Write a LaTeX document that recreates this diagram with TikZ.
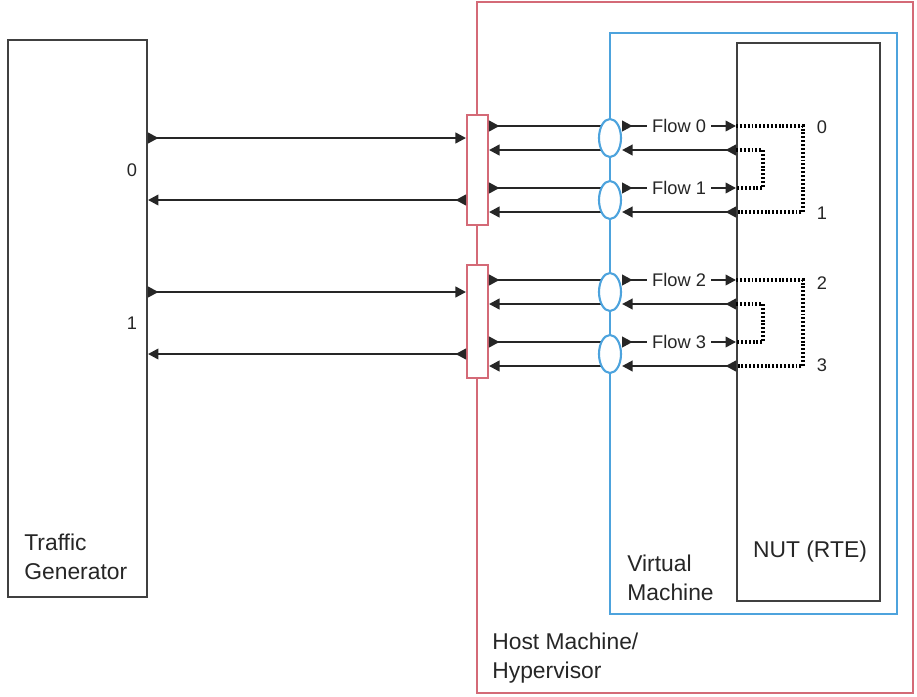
\documentclass[tikz,border=0pt]{standalone}
\usepackage{fontspec}
\setmainfont{Liberation Sans}
\usetikzlibrary{arrows.meta,shapes.geometric}
\definecolor{hostred}{HTML}{D46A77}
\definecolor{vmblue}{HTML}{4DA3DD}

\begin{document}
\begin{tikzpicture}[
    x=0.02cm, y=-0.02cm,
    box/.style={draw=black!75, line width=1.1pt, inner sep=0pt},
    hostbox/.style={draw=hostred, line width=1.4pt, inner sep=0pt},
    vmbox/.style={draw=vmblue, line width=1.2pt, inner sep=0pt},
    port/.style={draw=hostred, fill=white, line width=1.1pt,
                 minimum width=0.42cm, inner sep=0pt},
    vport/.style={ellipse, draw=vmblue, fill=white, line width=1.2pt,
                  minimum width=0.44cm, minimum height=0.76cm, inner sep=0pt},
    wire/.style={black!85, line width=1.3pt},
    both/.style={wire, {Triangle[length=6pt,width=6pt,reversed]}-{Triangle[length=6pt,width=6pt]}},
    outw/.style={wire, {Triangle[length=6pt,width=6pt,reversed]}-},
    inw/.style={wire, -{Triangle[length=6pt,width=6pt]}},
    lback/.style={black, line width=2.2pt, dash pattern=on 1.1pt off 1.1pt},
    lab/.style={font=\fontsize{13}{16.5}\selectfont, text=black!85,
                align=left, inner sep=0pt},
    flowlab/.style={font=\fontsize{10.4}{12}\selectfont, text=black!85,
                    fill=white, inner xsep=3pt, inner ysep=1pt},
    num/.style={font=\fontsize{10.4}{12}\selectfont, text=black!85, inner sep=0pt},
]
\useasboundingbox (0,0) rectangle (917,697);

% ---- boxes ----
\node[hostbox, minimum width=8.72cm, minimum height=13.82cm] (host) at (695,347.5) {};
\node[vmbox, minimum width=5.74cm, minimum height=11.62cm] (vm) at (753.5,323.5) {};
\node[box, minimum width=2.86cm, minimum height=11.16cm] (nut) at (808.5,322) {};
\node[box, minimum width=2.78cm, minimum height=11.14cm] (tg) at (77.5,318.5) {};

% ports on the hypervisor
\node[port, minimum height=2.2cm] (p0) at (477.5,170) {};
\node[port, minimum height=2.26cm] (p1) at (477.5,321.5) {};

% levels of the four flows (centre, outgoing, returning)
\foreach \i/\c in {0/138,1/200,2/292,3/354} {
    \coordinate (c\i) at (610,\c);
    \coordinate (r\i) at (610,\c-12);
    \coordinate (l\i) at (610,\c+12);
}
\coordinate (ox) at (803,0);
\coordinate (ix) at (763,0);

% ---- traffic generator <-> ports ----
\draw[both] (tg.east |- c0) -- (p0.west |- c0);
\draw[both] (p0.west |- c1) -- (tg.east |- c1);
\draw[both] (tg.east |- c2) -- (p1.west |- c2);
\draw[both] (p1.west |- c3) -- (tg.east |- c3);

% ---- ports <-> vm interfaces ----
\foreach \i/\p in {0/0,1/0,2/1,3/1} {
    \draw[outw] (p\p.east |- r\i) -- (r\i);
    \draw[inw] (l\i) -- (p\p.east |- l\i);
}
\foreach \i in {0,...,3} {
    \node[vport] (e\i) at (c\i) {};
}

% ---- vm interfaces <-> NUT ----
\foreach \i in {0,...,3} {
    \draw[both] (e\i.east |- r\i) -- node[flowlab] {Flow \i} (nut.west |- r\i);
    \draw[both] (nut.west |- l\i) -- (e\i.east |- l\i);
}

% loopbacks inside the NUT
\foreach \a/\b in {0/1,2/3} {
    \draw[lback] (nut.west |- r\a) -| (ox |- l\b) -- (nut.west |- l\b);
    \draw[lback] (nut.west |- l\a) -| (ix |- r\b) -- (nut.west |- r\b);
}

% ---- port numbers ----
\node[num] (tg0) at (132,170) {0};
\node[num] (tg1) at (132,323) {1};
\node[num] (n0) at (822,127) {0};
\node[num] (n1) at (822,213) {1};
\node[num] (n2) at (822,283) {2};
\node[num] (n3) at (822,365) {3};

% ---- labels ----
\node[lab, anchor=west] (tglab) at (24,557) {Traffic\\Generator};
\node[lab, anchor=west] (vmlab) at (627,578) {Virtual\\Machine};
\node[lab] (nutlab) at (810,552) {NUT (RTE)};
\node[lab, anchor=west] (hostlab) at (492,658) {Host Machine/\\Hypervisor};
\end{tikzpicture}
\end{document}
